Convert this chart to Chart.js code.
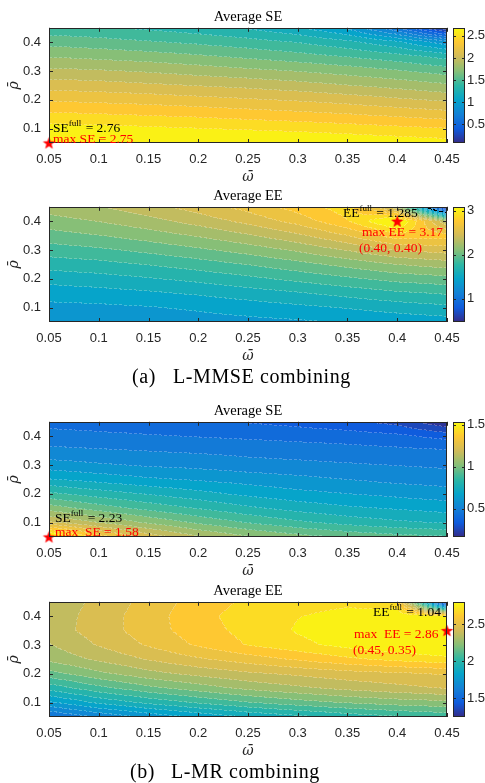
<!DOCTYPE html>
<html>
<head>
<meta charset="utf-8">
<script src="https://cdn.jsdelivr.net/npm/chart.js@4.4.1/dist/chart.umd.min.js"></script>
<style>
  body { margin: 0; background: #fff; width: 485px; height: 783px; position: relative; overflow: hidden; }
  .panel { position: absolute; left: 0; width: 485px; height: 189px; }
  .caption { position: absolute; font-family: "Liberation Serif", serif; font-size: 20px; letter-spacing: 0.6px; color: #000; white-space: nowrap; line-height: 24px; }
  .caption span { display: inline-block; width: 41px; }
</style>
</head>
<body>
<div class="panel" style="top:0px"><canvas id="c1"></canvas></div>
<div class="panel" style="top:179px"><canvas id="c2"></canvas></div>
<div class="caption" style="top:364px; left:132px"><span>(a)</span>L-MMSE combining</div>
<div class="panel" style="top:394px"><canvas id="c3"></canvas></div>
<div class="panel" style="top:574px"><canvas id="c4"></canvas></div>
<div class="caption" style="top:759px; left:130px"><span>(b)</span>L-MR combining</div>
<script>
// grid of the maps
const omegaVals = [0.05, 0.1, 0.15, 0.2, 0.25, 0.3, 0.35, 0.4, 0.45];
const rhoVals = [0.05, 0.1, 0.15, 0.2, 0.25, 0.3, 0.35, 0.4, 0.45];

const xTickVals = [0.05, 0.1, 0.15, 0.2, 0.25, 0.3, 0.35, 0.4, 0.45];
const xTickLabels = ['0.05', '0.1', '0.15', '0.2', '0.25', '0.3', '0.35', '0.4', '0.45'];
const yTickVals = [0.1, 0.2, 0.3, 0.4];
const yTickLabels = ['0.1', '0.2', '0.3', '0.4'];

// rows: rho 0.05 -> 0.45, columns: omega 0.05 -> 0.45
const seMmse = [
  [2.75, 2.74, 2.73, 2.71, 2.70, 2.68, 2.66, 2.63, 2.60],
  [2.60, 2.59, 2.57, 2.55, 2.53, 2.51, 2.48, 2.45, 2.42],
  [2.44, 2.42, 2.40, 2.38, 2.35, 2.32, 2.29, 2.25, 2.21],
  [2.27, 2.25, 2.23, 2.20, 2.17, 2.14, 2.10, 2.05, 2.00],
  [2.10, 2.08, 2.05, 2.02, 1.99, 1.95, 1.90, 1.85, 1.79],
  [1.93, 1.91, 1.88, 1.84, 1.80, 1.76, 1.71, 1.65, 1.58],
  [1.76, 1.73, 1.70, 1.66, 1.61, 1.56, 1.50, 1.43, 1.33],
  [1.59, 1.56, 1.52, 1.48, 1.43, 1.37, 1.28, 1.14, 0.90],
  [1.42, 1.39, 1.35, 1.30, 1.23, 1.13, 0.96, 0.60, 0.08]
];
const eeMmse = [
  [1.30, 1.30, 1.31, 1.33, 1.35, 1.37, 1.40, 1.43, 1.46],
  [1.35, 1.36, 1.38, 1.41, 1.45, 1.49, 1.53, 1.58, 1.62],
  [1.45, 1.47, 1.50, 1.54, 1.59, 1.64, 1.70, 1.76, 1.80],
  [1.57, 1.60, 1.64, 1.69, 1.75, 1.82, 1.89, 1.96, 2.00],
  [1.71, 1.74, 1.79, 1.85, 1.92, 2.00, 2.09, 2.18, 2.24],
  [1.85, 1.89, 1.95, 2.02, 2.10, 2.20, 2.32, 2.45, 2.50],
  [1.99, 2.04, 2.11, 2.19, 2.29, 2.41, 2.57, 2.78, 2.75],
  [2.12, 2.18, 2.26, 2.36, 2.48, 2.62, 2.82, 3.17, 2.30],
  [2.24, 2.30, 2.39, 2.50, 2.62, 2.76, 2.90, 2.30, 0.42]
];
const seMr = [
  [1.58, 1.36, 1.23, 1.13, 1.06, 1.01, 0.97, 0.94, 0.92],
  [1.20, 1.12, 1.04, 0.97, 0.91, 0.86, 0.82, 0.79, 0.77],
  [1.02, 0.95, 0.89, 0.84, 0.79, 0.75, 0.72, 0.70, 0.68],
  [0.86, 0.81, 0.77, 0.73, 0.69, 0.66, 0.64, 0.62, 0.60],
  [0.71, 0.68, 0.65, 0.63, 0.61, 0.59, 0.57, 0.55, 0.54],
  [0.60, 0.58, 0.56, 0.55, 0.53, 0.52, 0.51, 0.50, 0.49],
  [0.52, 0.51, 0.50, 0.49, 0.48, 0.47, 0.46, 0.45, 0.44],
  [0.46, 0.45, 0.44, 0.43, 0.42, 0.41, 0.40, 0.38, 0.34],
  [0.41, 0.40, 0.39, 0.38, 0.36, 0.34, 0.31, 0.27, 0.16]
];
const eeMr = [
  [1.55, 1.65, 1.74, 1.81, 1.88, 1.93, 1.98, 2.02, 2.05],
  [1.78, 1.89, 1.97, 2.04, 2.10, 2.15, 2.19, 2.22, 2.24],
  [1.98, 2.08, 2.16, 2.22, 2.28, 2.32, 2.36, 2.39, 2.42],
  [2.15, 2.24, 2.31, 2.36, 2.40, 2.43, 2.46, 2.48, 2.50],
  [2.28, 2.35, 2.42, 2.48, 2.53, 2.58, 2.63, 2.67, 2.70],
  [2.33, 2.42, 2.50, 2.58, 2.65, 2.70, 2.75, 2.79, 2.82],
  [2.37, 2.45, 2.53, 2.61, 2.67, 2.73, 2.78, 2.83, 2.86],
  [2.36, 2.45, 2.53, 2.62, 2.68, 2.72, 2.74, 2.78, 2.74],
  [2.36, 2.43, 2.52, 2.60, 2.66, 2.70, 2.71, 2.66, 1.22]
];

// colour bars
const cbRangeSeMmse = [0.08, 2.68];
const cbTicksSeMmse = [0.5, 1, 1.5, 2, 2.5];
const cbRangeEeMmse = [0.47, 3.09];
const cbTicksEeMmse = [1, 2, 3];
const cbRangeSeMr = [0.16, 1.535];
const cbTicksSeMr = [0.5, 1, 1.5];
const cbRangeEeMr = [1.25, 2.80];
const cbTicksEeMr = [1.5, 2, 2.5];

// markers and notes
const maxPtSeMmse = [0.05, 0.05];
const maxPtEeMmse = [0.40, 0.40];
const maxPtSeMr = [0.05, 0.05];
const maxPtEeMr = [0.45, 0.35];
const fullVals = [2.76, 1.285, 2.23, 1.04];
const maxVals = [2.75, 3.17, 1.58, 2.86];

// parula-like colour map
const parulaStops = [
  [53, 42, 135], [15, 92, 221], [20, 129, 214], [6, 164, 202], [46, 183, 164],
  [135, 191, 119], [209, 187, 89], [254, 200, 50], [249, 251, 14]
];
function parula(t) {
  t = Math.max(0, Math.min(1, t));
  const s = t * (parulaStops.length - 1);
  const i = Math.min(parulaStops.length - 2, Math.floor(s));
  const f = s - i;
  const a = parulaStops[i], b = parulaStops[i + 1];
  return [a[0] + (b[0] - a[0]) * f, a[1] + (b[1] - a[1]) * f, a[2] + (b[2] - a[2]) * f];
}

function findCell(arr, v) {
  let i = 0;
  while (i < arr.length - 2 && v > arr[i + 1]) i++;
  let f = (v - arr[i]) / (arr[i + 1] - arr[i]);
  return [i, Math.max(0, Math.min(1, f))];
}
function sample(z, om, rho) {
  const [i, fx] = findCell(omegaVals, om);
  const [j, fy] = findCell(rhoVals, rho);
  const a = z[j][i], b = z[j][i + 1], c = z[j + 1][i], d = z[j + 1][i + 1];
  return a * (1 - fx) * (1 - fy) + b * fx * (1 - fy) + c * (1 - fx) * fy + d * fx * fy;
}

function makeStar() {
  const c = document.createElement('canvas');
  c.width = 15; c.height = 15;
  const g = c.getContext('2d');
  g.beginPath();
  for (let k = 0; k < 10; k++) {
    const r = k % 2 ? 2.7 : 6.6;
    const ang = -Math.PI / 2 + k * Math.PI / 5;
    g.lineTo(7.5 + r * Math.cos(ang), 8 + r * Math.sin(ang));
  }
  g.closePath();
  g.fillStyle = '#ff0000';
  g.fill();
  return c;
}
const starImg = makeStar();

// filled contours, drawn from the grid through the chart scales
function contourPlugin(p) {
  return {
    id: 'contour',
    beforeDatasetsDraw(chart) {
      const {ctx, chartArea: a, scales: {x, y}} = chart;
      const x0 = Math.round(a.left), y0 = Math.round(a.top);
      const w = Math.round(a.right) - x0, h = Math.round(a.bottom) - y0;
      const n = 20, lo = p.range[0], step = (p.range[1] - p.range[0]) / n;
      const vals = new Float32Array(w * h);
      const bands = new Int16Array(w * h);
      for (let j = 0; j < h; j++) {
        const rho = y.getValueForPixel(y0 + j + 0.5);
        for (let i = 0; i < w; i++) {
          const om = x.getValueForPixel(x0 + i + 0.5);
          const v = sample(p.z, om, rho);
          vals[j * w + i] = v;
          bands[j * w + i] = Math.max(0, Math.min(n - 1, Math.floor((v - lo) / step)));
        }
      }
      const off = document.createElement('canvas');
      off.width = w; off.height = h;
      const octx = off.getContext('2d');
      const img = octx.createImageData(w, h);
      const fl = p.full;
      for (let j = 0; j < h; j++) {
        for (let i = 0; i < w; i++) {
          const k = bands[j * w + i];
          let col = parula((k + 0.5) / n);
          let line = false;
          if (i < w - 1 && bands[j * w + i + 1] !== k && (j % 5) < 3) line = true;
          if (j < h - 1 && bands[(j + 1) * w + i] !== k && (i % 5) < 3) line = true;
          if (line) col = col.map(c => c + (255 - c) * 0.25);
          const v = vals[j * w + i];
          let dark = false;
          if (i < w - 1 && (v - fl) * (vals[j * w + i + 1] - fl) < 0 && (j % 6) < 4) dark = true;
          if (j < h - 1 && (v - fl) * (vals[(j + 1) * w + i] - fl) < 0 && (i % 6) < 4) dark = true;
          if (dark) col = [0, 0, 0];
          const o = (j * w + i) * 4;
          img.data[o] = col[0]; img.data[o + 1] = col[1]; img.data[o + 2] = col[2]; img.data[o + 3] = 255;
        }
      }
      octx.putImageData(img, 0, 0);
      ctx.drawImage(off, x0, y0);
    }
  };
}

function framePlugin(p) {
  return {
    id: 'frame',
    afterDatasetsDraw(chart) {
      const {ctx, chartArea: a, scales: {x, y, cb}} = chart;
      ctx.save();
      ctx.strokeStyle = '#262626';
      ctx.lineWidth = 1;
      ctx.beginPath();
      xTickVals.forEach(v => {
        const px = Math.round(x.getPixelForValue(v)) + 0.5;
        ctx.moveTo(px, a.bottom); ctx.lineTo(px, a.bottom - 4);
        ctx.moveTo(px, a.top); ctx.lineTo(px, a.top + 4);
      });
      yTickVals.forEach(v => {
        const py = Math.round(y.getPixelForValue(v)) + 0.5;
        ctx.moveTo(a.left, py); ctx.lineTo(a.left + 4, py);
        ctx.moveTo(a.right, py); ctx.lineTo(a.right - 4, py);
      });
      ctx.stroke();
      ctx.strokeRect(Math.round(a.left) + 0.5, Math.round(a.top) + 0.5, Math.round(a.right - a.left) - 1, Math.round(a.bottom - a.top) - 1);
      // colour bar
      const bx = Math.round(a.right) + 6, bw = 12;
      for (let py = Math.round(a.top); py < Math.round(a.bottom); py++) {
        const v = cb.getValueForPixel(py + 0.5);
        const c = parula((v - p.range[0]) / (p.range[1] - p.range[0]));
        ctx.fillStyle = 'rgb(' + c.map(Math.round).join(',') + ')';
        ctx.fillRect(bx, py, bw, 1);
      }
      ctx.strokeRect(bx + 0.5, Math.round(a.top) + 0.5, bw - 1, Math.round(a.bottom - a.top) - 1);
      ctx.beginPath();
      p.cbTicks.forEach(v => {
        const py = Math.round(cb.getPixelForValue(v)) + 0.5;
        ctx.moveTo(bx + bw, py); ctx.lineTo(bx + bw - 3, py);
        ctx.moveTo(bx, py); ctx.lineTo(bx + 3, py);
      });
      ctx.stroke();
      ctx.restore();
    }
  };
}

function drawRich(ctx, parts, x, y, color) {
  ctx.fillStyle = color;
  ctx.textBaseline = 'middle';
  ctx.textAlign = 'left';
  let cx = x;
  parts.forEach(pt => {
    ctx.font = pt.sup ? '9px "Liberation Serif"' : '13.5px "Liberation Serif"';
    ctx.fillText(pt.t, cx, pt.sup ? y - 5 : y);
    cx += ctx.measureText(pt.t).width + (pt.sup ? 1 : 0);
  });
}

function textPlugin(p) {
  return {
    id: 'notes',
    afterDraw(chart) {
      const {ctx, chartArea: a} = chart;
      ctx.save();
      ctx.fillStyle = '#000';
      ctx.font = '14.5px "Liberation Serif"';
      ctx.textAlign = 'center';
      ctx.textBaseline = 'middle';
      ctx.fillText(p.title, (a.left + a.right) / 2, a.top - 11);
      p.notes.forEach(nt => drawRich(ctx, nt.parts, a.left + nt.dx, a.top + nt.dy, nt.color));
      ctx.restore();
    }
  };
}

const tickFont = {family: 'Liberation Sans', size: 13};
const axisTitleFont = {family: 'DejaVu Serif', size: 14, style: 'italic'};

function makePanel(id, p) {
  new Chart(document.getElementById(id), {
    type: 'scatter',
    data: {
      datasets: [{
        data: [{x: p.maxPt[0], y: p.maxPt[1]}],
        pointStyle: starImg,
        pointRadius: 7,
        clip: false
      }]
    },
    options: {
      responsive: true,
      maintainAspectRatio: false,
      animation: false,
      events: [],
      layout: {padding: {top: 25, left: 0, right: 0, bottom: 0}},
      plugins: {legend: {display: false}, tooltip: {enabled: false}},
      scales: {
        x: {
          type: 'linear', position: 'bottom', min: 0.05, max: 0.45,
          afterBuildTicks: s => { s.ticks = xTickVals.map(v => ({value: v})); },
          afterFit: s => { s.height = 46; },
          grid: {display: false, drawTicks: false},
          border: {display: false},
          ticks: {font: tickFont, color: '#262626', padding: 9, maxRotation: 0, autoSkip: false,
            callback: (v, i) => xTickLabels[i]},
          title: {display: true, text: '\u03C9\u0304', font: axisTitleFont, color: '#262626', padding: {top: 0, bottom: 3}}
        },
        y: {
          type: 'linear', position: 'left', min: 0.05, max: 0.45,
          afterBuildTicks: s => { s.ticks = yTickVals.map(v => ({value: v})); },
          afterFit: s => { s.width = 49; },
          grid: {display: false, drawTicks: false},
          border: {display: false},
          ticks: {font: tickFont, color: '#262626', padding: 8, autoSkip: false,
            callback: (v, i) => yTickLabels[i]},
          title: {display: true, text: '\u03C1\u0304', font: axisTitleFont, color: '#262626', padding: {top: 6, bottom: 0}}
        },
        cb: {
          type: 'linear', position: 'right', min: p.range[0], max: p.range[1],
          afterBuildTicks: s => { s.ticks = p.cbTicks.map(v => ({value: v})); },
          afterFit: s => { s.width = 38; },
          grid: {display: false, drawTicks: false},
          border: {display: false},
          ticks: {font: tickFont, color: '#262626', padding: 20, autoSkip: false,
            callback: v => String(v)}
        }
      }
    },
    plugins: [contourPlugin(p), framePlugin(p), textPlugin(p)]
  });
}

makePanel('c1', {
  title: 'Average SE', z: seMmse, range: cbRangeSeMmse, cbTicks: cbTicksSeMmse,
  maxPt: maxPtSeMmse, full: fullVals[0],
  notes: [
    {parts: [{t: 'SE'}, {t: 'full', sup: true}, {t: ' = ' + fullVals[0]}], dx: 4, dy: 101, color: '#000'},
    {parts: [{t: 'max SE = ' + maxVals[0]}], dx: 4, dy: 112, color: '#ff0000'}
  ]
});
makePanel('c2', {
  title: 'Average EE', z: eeMmse, range: cbRangeEeMmse, cbTicks: cbTicksEeMmse,
  maxPt: maxPtEeMmse, full: fullVals[1],
  notes: [
    {parts: [{t: 'EE'}, {t: 'full', sup: true}, {t: ' = ' + fullVals[1]}], dx: 294, dy: 7, color: '#000'},
    {parts: [{t: 'max EE = ' + maxVals[1]}], dx: 313, dy: 26, color: '#ff0000'},
    {parts: [{t: '(' + maxPtEeMmse[0].toFixed(2) + ', ' + maxPtEeMmse[1].toFixed(2) + ')'}], dx: 310, dy: 41.5, color: '#ff0000'}
  ]
});
makePanel('c3', {
  title: 'Average SE', z: seMr, range: cbRangeSeMr, cbTicks: cbTicksSeMr,
  maxPt: maxPtSeMr, full: fullVals[2],
  notes: [
    {parts: [{t: 'SE'}, {t: 'full', sup: true}, {t: ' = ' + fullVals[2]}], dx: 6, dy: 97, color: '#000'},
    {parts: [{t: 'max  SE = ' + maxVals[2]}], dx: 6, dy: 111, color: '#ff0000'}
  ]
});
makePanel('c4', {
  title: 'Average EE', z: eeMr, range: cbRangeEeMr, cbTicks: cbTicksEeMr,
  maxPt: maxPtEeMr, full: fullVals[3],
  notes: [
    {parts: [{t: 'EE'}, {t: 'full', sup: true}, {t: ' = ' + fullVals[3]}], dx: 324, dy: 11, color: '#000'},
    {parts: [{t: 'max  EE = ' + maxVals[3]}], dx: 305, dy: 33, color: '#ff0000'},
    {parts: [{t: '(' + maxPtEeMr[0].toFixed(2) + ', ' + maxPtEeMr[1].toFixed(2) + ')'}], dx: 304, dy: 49, color: '#ff0000'}
  ]
});
</script>
</body>
</html>
